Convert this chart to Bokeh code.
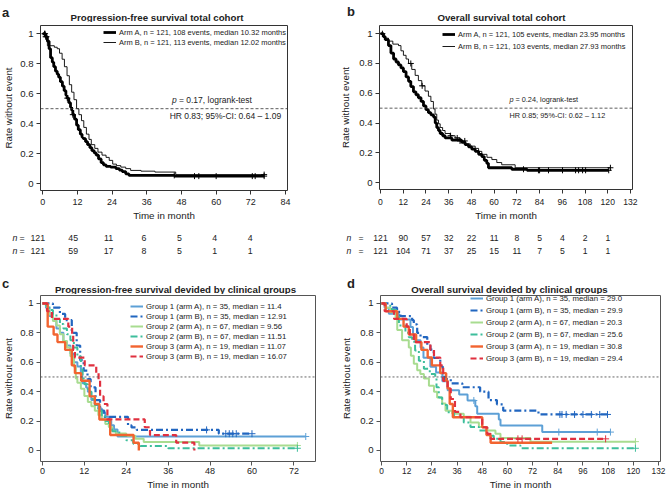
import numpy as np
from bokeh.plotting import figure
from bokeh.models import (Range1d, FixedTicker, Span, Label, Legend, LegendItem, LinearAxis,
                          ColumnDataSource, CustomJSTickFormatter)
from bokeh.core.properties import value
from bokeh.layouts import row, column
from bokeh.embed import file_html
from bokeh.resources import INLINE

FONT = "Liberation Sans"

# ---------------- data: panel a (PFS total cohort) ----------------
a_armA_t = [0, 1.0, 1.6, 2.2, 2.7, 3.3, 3.8, 4.4, 5.0, 5.5, 6.1, 6.8, 7.4, 8.0, 8.4, 9.0, 9.6, 10.0, 10.4, 11.0,
            11.7, 12.3, 13.0, 13.6, 14.0, 14.8, 15.5, 16.3, 17.0, 17.8, 18.5, 19.3, 20.2, 21.0, 21.9, 23.5, 25.3,
            26.5, 27.5, 28.7, 29.8, 45.6, 76.6]
a_armA_s = [1, 0.98, 0.95, 0.9, 0.84, 0.81, 0.78, 0.75, 0.73, 0.71, 0.68, 0.65, 0.62, 0.59, 0.57, 0.54, 0.51, 0.49,
            0.46, 0.43, 0.39, 0.36, 0.33, 0.31, 0.30, 0.28, 0.26, 0.24, 0.22, 0.205, 0.19, 0.165, 0.14, 0.125, 0.115,
            0.11, 0.10, 0.09, 0.08, 0.065, 0.055, 0.05, 0.05]
a_armB_t = [0, 1.2, 1.6, 4.0, 5.0, 5.8, 6.7, 7.5, 8.4, 9.2, 10.0, 10.8, 11.7, 12.5, 13.4, 14.2, 15.1, 16.0, 16.8,
            18.0, 19.1, 20.5, 21.9, 23.0, 24.2, 25.5, 27.0, 28.7, 30.4, 34.0, 38.8, 46.0, 76.6]
a_armB_s = [1, 0.97, 0.92, 0.91, 0.90, 0.87, 0.83, 0.78, 0.72, 0.66, 0.61, 0.56, 0.50, 0.46, 0.42, 0.375, 0.33,
            0.295, 0.26, 0.235, 0.21, 0.19, 0.175, 0.155, 0.13, 0.12, 0.11, 0.10, 0.088, 0.083, 0.077, 0.06, 0.06]
a_armA_cens = [0.6, 1.0, 1.3, 8.5, 10.4, 45.5, 52.5, 54.0, 60.0, 72.5, 73.5, 76.6]
a_armB_cens = [0.8, 76.6]
a_xticks = [0, 12, 24, 36, 48, 60, 72, 84]
a_risk_t = [0, 12, 24, 36, 48, 60, 72]
a_risk_A = [121, 45, 11, 6, 5, 4, 4]
a_risk_B = [121, 59, 17, 8, 5, 1, 1]
a_legend = ["Arm A, n = 121, 108 events, median 10.32 months",
            "Arm B, n = 121, 113 events, median 12.02 months"]
a_stats = ["= 0.17, logrank-test", "HR 0.83; 95%-CI: 0.64 \u2013 1.09"]

# ---------------- data: panel b (OS total cohort) ----------------
b_armA_t = [0, 1.5, 2.5, 4.2, 5.5, 6.9, 8.2, 9.5, 10.8, 12.1, 13.5, 14.8, 16.0, 17.4, 18.7, 20.0, 21.4, 22.7, 24.0,
            25.3, 26.6, 28.0, 28.9, 29.7, 30.6, 31.5, 32.8, 34.1, 37.7, 42.9, 44.7, 46.5, 48.2, 50.0, 51.8, 53.5,
            54.8, 56.1, 57.0, 69.3, 77.4, 120.5]
b_armA_s = [1, 0.98, 0.96, 0.92, 0.87, 0.83, 0.81, 0.79, 0.77, 0.745, 0.71, 0.68, 0.645, 0.61, 0.59, 0.57, 0.545,
            0.515, 0.49, 0.47, 0.455, 0.44, 0.40, 0.37, 0.35, 0.33, 0.315, 0.30, 0.285, 0.27, 0.255, 0.24, 0.225,
            0.21, 0.19, 0.175, 0.15, 0.13, 0.10, 0.09, 0.083, 0.083]
b_armB_t = [0, 2.0, 4.2, 6.5, 9.5, 10.8, 12.1, 13.5, 14.8, 16.5, 18.3, 20.0, 21.8, 23.5, 25.3, 26.6, 27.93, 28.8,
            29.7, 30.6, 31.5, 32.8, 34.1, 36.8, 39.4, 42.0, 44.7, 47.4, 50.0, 51.8, 53.5, 56.2, 58.8, 61.4, 64.0,
            71.1, 121.4]
b_armB_s = [1, 0.97, 0.95, 0.93, 0.92, 0.885, 0.855, 0.83, 0.80, 0.76, 0.72, 0.685, 0.65, 0.615, 0.58, 0.545,
            0.495, 0.46, 0.42, 0.395, 0.37, 0.35, 0.33, 0.315, 0.30, 0.28, 0.26, 0.245, 0.23, 0.21, 0.19, 0.17,
            0.155, 0.135, 0.12, 0.10, 0.10]
b_armA_cens = [1.0, 75.5, 83.4, 84.0, 88.7, 96.1, 103.0, 104.6, 106.7, 108.3, 120.5]
b_armB_cens = [16.0, 22.0, 37.0, 40.5, 42.0, 44.5, 121.4]
b_xticks = [0, 12, 24, 36, 48, 60, 72, 84, 96, 108, 120, 132]
b_risk_t = [0, 12, 24, 36, 48, 60, 72, 84, 96, 108, 120]
b_risk_A = [121, 90, 57, 32, 22, 11, 8, 5, 4, 2, 1]
b_risk_B = [121, 104, 71, 37, 25, 15, 11, 7, 5, 1, 1]
b_legend = ["Arm A, n = 121, 105 events, median 23.95 months",
            "Arm B, n = 121, 103 events, median 27.93 months"]
b_stats = ["= 0.24, logrank-test", "HR 0.85; 95%-CI: 0.62 \u2013 1.12"]

# ---------------- data: panel c (PFS by clinical group) ----------------
c_g1a_t = [0, 1, 2, 3, 4, 5, 6, 7, 8, 9, 10, 11, 11.4, 12.5, 13, 14, 15, 16, 17, 18, 19, 19.7, 20.5, 21.5, 75.4]
c_g1a_s = [1, 0.971, 0.914, 0.886, 0.829, 0.8, 0.743, 0.714, 0.657, 0.6, 0.571, 0.514, 0.457, 0.429, 0.4, 0.343,
           0.314, 0.286, 0.257, 0.229, 0.2, 0.171, 0.143, 0.095, 0.095]
c_g1b_t = [0, 3.0, 5.0, 6.5, 8.4, 9.8, 10.8, 11.8, 12.9, 13.8, 15.2, 16.5, 17.7, 24.5, 25.5, 27.0, 50.5, 59.9]
c_g1b_s = [1, 0.971, 0.929, 0.886, 0.8, 0.714, 0.614, 0.543, 0.486, 0.429, 0.343, 0.271, 0.229, 0.171, 0.157,
           0.14, 0.114, 0.114]
c_g2a_t = [0, 1, 1.5, 2, 3, 4, 5, 6, 7, 8, 9, 9.56, 10, 11, 12, 13, 14, 15, 16, 17, 18, 19, 20, 21, 24, 26.6, 29,
           44.9, 73]
c_g2a_s = [1, 0.985, 0.955, 0.925, 0.88, 0.85, 0.79, 0.745, 0.70, 0.64, 0.57, 0.49, 0.46, 0.42, 0.37, 0.33, 0.30,
           0.27, 0.24, 0.21, 0.18, 0.16, 0.13, 0.115, 0.10, 0.08, 0.057, 0.034, 0.034]
c_g2b_t = [0, 1, 2, 3, 4, 5, 6, 7, 8, 9, 10, 11, 11.51, 12, 13, 14, 15, 16, 17, 18, 19, 20, 22, 24, 26, 28, 36, 73]
c_g2b_s = [1, 0.985, 0.955, 0.925, 0.895, 0.86, 0.83, 0.79, 0.75, 0.70, 0.64, 0.55, 0.49, 0.45, 0.40, 0.35, 0.31,
           0.27, 0.24, 0.20, 0.16, 0.13, 0.10, 0.07, 0.045, 0.03, 0.015, 0.015]
c_g3a_t = [0, 1.5, 3.2, 4.3, 6.5, 8.4, 9.3, 11.07, 13.5, 15.0, 16.3, 19.4, 26.1, 27.6]
c_g3a_s = [1, 0.842, 0.789, 0.737, 0.684, 0.579, 0.526, 0.474, 0.368, 0.316, 0.211, 0.105, 0.053, 0]
c_g3b_t = [0, 1.3, 2.7, 7.4, 8.5, 8.8, 9.3, 12.1, 15.4, 16.07, 16.5, 17.5, 18.6, 29.3, 30.8, 38.3, 43.5]
c_g3b_s = [1, 0.947, 0.895, 0.842, 0.789, 0.684, 0.632, 0.579, 0.526, 0.474, 0.368, 0.316, 0.211, 0.158, 0.105,
           0.053, 0]
c_cens = {"g1a": [75.4], "g1b": [47.0, 52.5, 53.5, 54.5, 55.5, 60.0], "g2a": [73.0], "g2b": [73.0],
          "g3a": [], "g3b": []}
c_xticks = [0, 12, 24, 36, 48, 60, 72]
c_legend = ["Group 1 (arm A), n = 35, median = 11.4", "Group 1 (arm B), n = 35, median = 12.91",
            "Group 2 (arm A), n = 67, median = 9.56", "Group 2 (arm B), n = 67, median = 11.51",
            "Group 3 (arm A), n = 19, median = 11.07", "Group 3 (arm B), n = 19, median = 16.07"]

# ---------------- data: panel d (OS by clinical group) ----------------
d_g1a_t = [0, 1.5, 3.5, 8.3, 13.8, 15.0, 16.0, 18.6, 20.0, 23.3, 26.0, 29.0, 31.5, 37.0, 41.0, 44.7, 45.6, 55.9,
           56.7, 76.6, 109.1]
d_g1a_s = [1, 0.971, 0.93, 0.89, 0.84, 0.79, 0.75, 0.70, 0.63, 0.57, 0.53, 0.47, 0.41, 0.38, 0.34, 0.30, 0.25,
           0.21, 0.17, 0.125, 0.125]
d_g1b_t = [0, 5.0, 7.4, 9.0, 14.6, 15.4, 17.0, 18.6, 21.8, 23.3, 24.9, 28.0, 29.2, 29.9, 33.0, 38.5, 47.0, 51.0,
           55.0, 58.0, 74.8, 107.7]
d_g1b_s = [1, 0.971, 0.943, 0.914, 0.886, 0.857, 0.80, 0.771, 0.714, 0.686, 0.629, 0.571, 0.514, 0.486, 0.457,
           0.43, 0.40, 0.343, 0.314, 0.271, 0.245, 0.245]
d_g2a_t = [0, 2.0, 4.3, 6.7, 7.5, 9.8, 13.0, 14.0, 15.4, 17.0, 18.5, 20.2, 22.6, 25.0, 26.5, 28.9, 30.5, 33.7, 39.2,
           42.4, 46.4, 50.4, 54.3, 56.7, 71.0, 121.0]
d_g2a_s = [1, 0.97, 0.94, 0.90, 0.82, 0.75, 0.70, 0.645, 0.59, 0.545, 0.52, 0.49, 0.44, 0.40, 0.36, 0.32, 0.27,
           0.25, 0.23, 0.19, 0.16, 0.136, 0.113, 0.085, 0.06, 0.06]
d_g2b_t = [0, 2.0, 5.0, 7.5, 8.3, 11.4, 13.0, 14.6, 16.0, 17.8, 20.2, 23.0, 25.6, 26.2, 27.3, 28.9, 31.3, 34.5,
           39.2, 42.4, 46.4, 50.4, 53.5, 56.7, 59.9, 66.2, 121.0]
d_g2b_s = [1, 0.985, 0.955, 0.92, 0.85, 0.80, 0.77, 0.74, 0.68, 0.61, 0.555, 0.52, 0.49, 0.43, 0.36, 0.31, 0.26,
           0.23, 0.19, 0.16, 0.136, 0.10, 0.08, 0.057, 0.034, 0.015, 0.015]
d_g3a_t = [0, 2.0, 7.5, 10.5, 13.0, 16.5, 19.0, 22.0, 24.0, 28.0, 30.8, 31.5, 32.5, 34.0, 48.0, 50.0, 52.0, 81.3]
d_g3a_s = [1, 0.947, 0.895, 0.842, 0.789, 0.737, 0.684, 0.632, 0.579, 0.526, 0.474, 0.421, 0.316, 0.226, 0.158,
           0.105, 0.053, 0.053]
d_g3b_t = [0, 1.5, 6.0, 12.0, 13.5, 15.4, 23.3, 25.0, 28.0, 29.4, 31.5, 33.0, 35.0, 37.6, 48.0, 50.4, 52.0, 106.8]
d_g3b_s = [1, 0.947, 0.895, 0.842, 0.789, 0.737, 0.684, 0.632, 0.579, 0.474, 0.421, 0.35, 0.263, 0.226, 0.158,
           0.113, 0.079, 0.079]
d_cens = {"g1a": [44.0, 84.5, 102.8, 109.1], "g1b": [85.0, 86.0, 88.0, 92.0, 96.0, 100.0, 104.0, 107.7],
          "g2a": [121.0], "g2b": [121.0], "g3a": [], "g3b": [65.0, 67.0, 106.8]}
d_xticks = [0, 12, 24, 36, 48, 60, 72, 84, 96, 108, 120, 132]
d_legend = ["Group 1 (arm A), n = 35, median = 29.0", "Group 1 (arm B), n = 35, median = 29.9",
            "Group 2 (arm A), n = 67, median = 20.3", "Group 2 (arm B), n = 67, median = 25.6",
            "Group 3 (arm A), n = 19, median = 30.8", "Group 3 (arm B), n = 19, median = 29.4"]

letters = ["a", "b", "c", "d"]
titles = ["Progression-free survival total cohort", "Overall survival total cohort",
          "Progression-free survival devided by clinical groups", "Overall survival devided by clinical groups"]
x_label = "Time in month"
y_label = "Rate without event"

# ---------------- styling ----------------
GROUP_STYLE = {
    "g1a": dict(color="#5DA0D6", width=2.0, dash="solid"),
    "g1b": dict(color="#2166C0", width=2.2, dash="7 3 2 3"),
    "g2a": dict(color="#A8DC90", width=2.0, dash="solid"),
    "g2b": dict(color="#3DBE9B", width=2.0, dash="7 3 2 3"),
    "g3a": dict(color="#F26430", width=2.4, dash="solid"),
    "g3b": dict(color="#E0303F", width=2.2, dash="6 3"),
}
TXT = "#222222"


def surv_at(t, ts, ss):
    i = int(np.searchsorted(np.asarray(ts), t, side="right")) - 1
    return ss[max(i, 0)]


def blank_fig(w, h, xr, yr):
    p = figure(width=w, height=h, x_range=Range1d(*xr), y_range=Range1d(*yr), output_backend="svg",
               toolbar_location=None, title=None, x_axis_location=None, y_axis_location=None,
               min_border_left=0, min_border_right=0, min_border_top=0, min_border_bottom=0)
    p.frame_align = False
    p.grid.visible = False
    p.outline_line_color = None
    return p


def put_text(p, xs, ys, texts, size, style="normal", align="left"):
    p.text(x=xs, y=ys, text=texts, text_font=value(FONT), text_font_size=value(size),
           text_font_style=value(style), text_align=value(align), text_baseline=value("alphabetic"),
           text_color=TXT)


def header(w, h, letter, lx, ly, title, tx, ty):
    p = blank_fig(w, h, (0, w), (h, 0))
    put_text(p, [lx], [ly], [letter], "13px", style="bold")
    put_text(p, [tx], [ty], [title], "9.7px", style="bold", align="center")
    return p


def main_fig(w, h, bl, br, bt, bb, xr, yr, xticks, xfs, xstand, xlstand, ylstand, frame_col):
    p = figure(width=w, height=h, x_range=Range1d(*xr), y_range=Range1d(*yr),
               output_backend="svg", toolbar_location=None, title=None,
               min_border_left=bl, min_border_right=br, min_border_top=bt, min_border_bottom=bb)
    p.frame_align = False
    p.xgrid.visible = False
    p.ygrid.visible = False
    p.outline_line_color = None
    p.xaxis.ticker = FixedTicker(ticks=xticks)
    p.yaxis.ticker = FixedTicker(ticks=[0, 0.2, 0.4, 0.6, 0.8, 1])
    p.yaxis.formatter = CustomJSTickFormatter(
        code="return tick < 0.01 ? '0' : (tick > 0.99 ? '1' : tick.toFixed(1));")
    for ax in (p.xaxis[0], p.yaxis[0]):
        ax.axis_line_color = frame_col
        ax.major_tick_line_color = frame_col
        ax.major_tick_out = 4
        ax.major_tick_in = 0
        ax.minor_tick_line_color = None
        ax.major_label_text_font = FONT
        ax.major_label_text_color = TXT
        ax.axis_label_text_font = FONT
        ax.axis_label_text_font_size = "9.8px"
        ax.axis_label_text_font_style = "normal"
        ax.axis_label_text_color = TXT
    p.xaxis.major_label_text_font_size = xfs
    p.xaxis.major_label_standoff = xstand
    p.xaxis.axis_label = x_label
    p.xaxis.axis_label_standoff = xlstand
    p.yaxis.major_label_text_font_size = "9.6px"
    p.yaxis.major_label_standoff = 3
    p.yaxis.major_label_orientation = "horizontal"
    p.yaxis.axis_label = y_label
    p.yaxis.axis_label_standoff = ylstand
    # box around the plotting area (top and right edges)
    for side in ("above", "right"):
        p.add_layout(LinearAxis(ticker=FixedTicker(ticks=[]), axis_line_color=frame_col,
                                major_tick_line_color=None, minor_tick_line_color=None,
                                major_tick_out=0, major_tick_in=0, major_label_standoff=0,
                                major_label_text_font_size="0px"), side)
    return p


def step_line(p, t, s, color, width, dash):
    src = ColumnDataSource(data=dict(t=t, s=s))
    return p.step(x="t", y="s", source=src, mode="after", line_color=color, line_width=width,
                  line_dash=dash)


def censor(p, cens, t, s, color, size=6):
    if not cens:
        return
    ys = [surv_at(c, t, s) for c in cens]
    p.scatter(x=cens, y=ys, marker="cross", size=size, line_color=color, line_width=1)


def legend(p, items, vx, vy, lh, fs):
    lg = Legend(items=items, location=(vx, vy), label_text_font=FONT, label_text_font_size=fs,
                label_text_color=TXT, glyph_width=13, glyph_height=lh, label_height=lh,
                label_standoff=3, spacing=0, padding=0, margin=0, border_line_alpha=0,
                background_fill_alpha=0)
    p.add_layout(lg)


def stats(p, x_p, x_hr, y_p, y_hr, texts, fs, poff):
    p.add_layout(Label(x=x_p, y=y_p, text="p", text_font=FONT, text_font_size=fs,
                       text_font_style="italic", text_baseline="middle", text_color=TXT))
    p.add_layout(Label(x=x_p, y=y_p, x_offset=poff, text=texts[0], text_font=FONT, text_font_size=fs,
                       text_baseline="middle", text_color=TXT))
    p.add_layout(Label(x=x_hr, y=y_hr, text=texts[1], text_font=FONT, text_font_size=fs,
                       text_baseline="middle", text_color=TXT))


def risk_fig(w, h, y0, xr_main, bl, br, risk_t, rows, row_y, n_x, eq_x, fs):
    # same px-per-month scale as the main plot, frame widened to the whole figure width
    scale = (w - bl - br) / (xr_main[1] - xr_main[0])
    x0 = xr_main[0] - bl / scale
    x1 = xr_main[1] + br / scale
    p = blank_fig(w, h, (x0, x1), (y0 + h, y0))
    for yy, vals in zip(row_y, rows):
        put_text(p, [x0 + n_x / scale], [yy], ["n"], fs, style="italic")
        put_text(p, [x0 + eq_x / scale], [yy], ["="], fs)
        put_text(p, risk_t, [yy] * len(risk_t), [str(v) for v in vals], fs, align="center")
    return p


W1, W2 = 337, 329

# ================= panel a =================
xa = (-0.78, 84.68)
ha = header(W1, 22, letters[0], 1.5, 12, titles[0], 156.5, 17)
pa = main_fig(W1, 201, 35, 50, 3, 31, xa, (-0.046, 1.055), a_xticks, "9px", 4, 2, 3, "#333333")
pa.add_layout(Span(location=0.5, dimension="width", line_color="#333333", line_dash="3 2", line_width=0.8))
ra = step_line(pa, a_armA_t, a_armA_s, "black", 2.8, "solid")
rb = step_line(pa, a_armB_t, a_armB_s, "black", 0.9, "solid")
censor(pa, a_armA_cens, a_armA_t, a_armA_s, "black")
censor(pa, a_armB_cens, a_armB_t, a_armB_s, "black")
legend(pa, [LegendItem(label=a_legend[0], renderers=[ra]), LegendItem(label=a_legend[1], renderers=[rb])],
       63, 142.7, 10, "7.5px")
stats(pa, 44.7, 43.9, 0.56, 0.448, a_stats, "8.5px", 7.0)
ka = risk_fig(W1, 43, 223, xa, 35, 50, a_risk_t, [a_risk_A, a_risk_B], [237.3, 250.7], 12, 19, "8.8px")

# ================= panel b =================
xb = (-0.53, 133.06)
hb = header(W2, 22, letters[1], 9.5, 11, titles[1], 164, 17)
pb = main_fig(W2, 201, 42, 34, 3, 31, xb, (-0.046, 1.055), b_xticks, "8.6px", 5, 2, 5, "#333333")
pb.add_layout(Span(location=0.5, dimension="width", line_color="#333333", line_dash="3 2", line_width=0.8))
rb1 = step_line(pb, b_armA_t, b_armA_s, "black", 2.8, "solid")
rb2 = step_line(pb, b_armB_t, b_armB_s, "black", 0.9, "solid")
censor(pb, b_armA_cens, b_armA_t, b_armA_s, "black")
censor(pb, b_armB_cens, b_armB_t, b_armB_s, "black")
legend(pb, [LegendItem(label=b_legend[0], renderers=[rb1]), LegendItem(label=b_legend[1], renderers=[rb2])],
       63, 136.7, 12, "7.5px")
stats(pb, 68.1, 68.1, 0.56, 0.448, b_stats, "7.3px", 6.0)
kb = risk_fig(W2, 43, 223, xb, 42, 34, b_risk_t, [b_risk_A, b_risk_B], [237.7, 250.7], 9, 21, "8.6px")


def group_panel(p, data, cens, labels, vx, vy, lh):
    items = []
    for key, (t, s), lab in zip(["g1a", "g1b", "g2a", "g2b", "g3a", "g3b"], data, labels):
        st = GROUP_STYLE[key]
        r = step_line(p, t, s, st["color"], st["width"], st["dash"])
        censor(p, cens[key], t, s, st["color"], size=7)
        items.append(LegendItem(label=lab, renderers=[r]))
    legend(p, items, vx, vy, lh, "7.8px")


# ================= panel c =================
hc = header(W1, 28, letters[2], 1.5, 17, titles[2], 175, 22.5)
pc = main_fig(W1, 198, 35, 22, 1, 31, (-0.56, 78.19), (-0.075, 1.054), c_xticks, "9px", 2, 2, 3, "#555555")
pc.add_layout(Span(location=0.5, dimension="width", line_color="#555555", line_dash="2 2", line_width=0.9))
group_panel(pc, [(c_g1a_t, c_g1a_s), (c_g1b_t, c_g1b_s), (c_g2a_t, c_g2a_s), (c_g2b_t, c_g2b_s),
                 (c_g3a_t, c_g3a_s), (c_g3b_t, c_g3b_s)], c_cens, c_legend, 90, 100, 10)

# ================= panel d =================
hd = header(W2, 28, letters[3], 9.5, 17, titles[3], 172, 22.5)
pd_ = main_fig(W2, 198, 43, 6, 1, 31, (-0.48, 132.95), (-0.075, 1.054), d_xticks, "8.3px", 2, 2, 5, "#555555")
pd_.add_layout(Span(location=0.5, dimension="width", line_color="#555555", line_dash="2 2", line_width=0.9))
group_panel(pd_, [(d_g1a_t, d_g1a_s), (d_g1b_t, d_g1b_s), (d_g2a_t, d_g2a_s), (d_g2b_t, d_g2b_s),
                  (d_g3a_t, d_g3a_s), (d_g3b_t, d_g3b_s)], d_cens, d_legend, 90, 96.7, 12)

layout = column(row(column(ha, pa, ka), column(hb, pb, kb)),
                row(column(hc, pc), column(hd, pd_)))
open("out.html", "w").write(file_html(layout, INLINE))
